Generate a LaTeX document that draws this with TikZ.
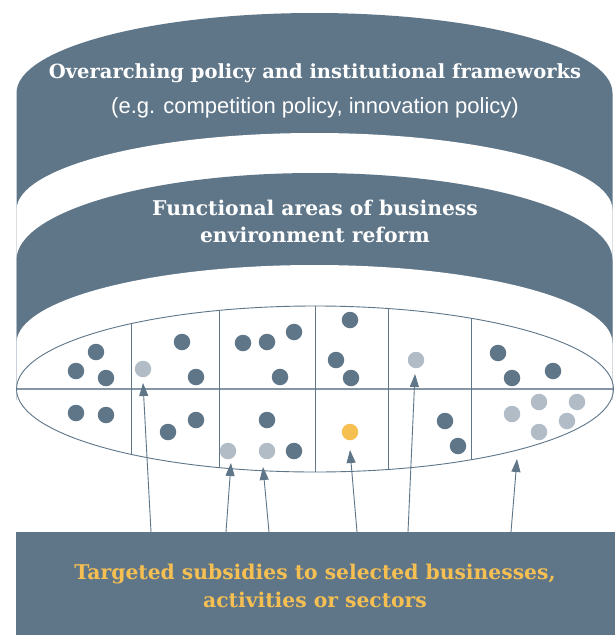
\documentclass[tikz,border=0pt]{standalone}
\usepackage{fontspec}
\setmainfont{DejaVu Serif}
\newfontfamily\headfont{DejaVu Serif}
\newfontfamily\notefont{Liberation Sans}
\usetikzlibrary{arrows.meta}
\definecolor{slate}{HTML}{5F7689}
\definecolor{mist}{HTML}{B2BCC7}
\definecolor{amber}{HTML}{F6BF52}
\definecolor{rulegray}{HTML}{8796A6}

\begin{document}
\begin{tikzpicture}[x=1pt,y=-1pt,
  dot/.style={circle,fill=slate,inner sep=0pt,minimum size=16.5pt},
  lite/.style={dot,fill=mist},
  gold/.style={dot,fill=amber},
  grid/.style={draw=slate,line width=0.9pt},
  arr/.style={draw=slate,line width=0.9pt,-{Triangle[width=9pt,length=13pt]}},
  head/.style={text=white,font=\headfont\bfseries\fontsize{19.5}{27}\selectfont,align=center,inner sep=0pt},
  subhead/.style={head,font=\headfont\bfseries\fontsize{20.3}{27}\selectfont},
  note/.style={text=white,font=\notefont\fontsize{22}{26}\selectfont,align=center,inner sep=0pt},
  goldhead/.style={head,text=amber,font=\headfont\bfseries\fontsize{20.3}{28}\selectfont}
]
% canvas
\fill[white] (0,0) rectangle (615,635);
\useasboundingbox (0,0) rectangle (615,635);

% stacked bands: alternate slate and white half-ellipses
\fill[slate] (16.5,93) arc[start angle=180,end angle=0,x radius=298pt,y radius=80pt] -- (612.5,400) -- (16.5,400) -- cycle;
\fill[white] (16.5,210) arc[start angle=180,end angle=0,x radius=298pt,y radius=77pt] -- (612.5,400) -- (16.5,400) -- cycle;
\fill[slate] (16.5,260) arc[start angle=180,end angle=0,x radius=298pt,y radius=87pt] -- (612.5,400) -- (16.5,400) -- cycle;
\fill[white] (16.5,343) arc[start angle=180,end angle=0,x radius=298pt,y radius=78pt] -- (612.5,530) -- (16.5,530) -- cycle;

% band labels
\node[head] (t1) at (315,73) {Overarching policy and institutional frameworks};
\node[note] (t2) at (315,108) {(e.g. competition policy, innovation policy)};
\node[subhead] (t3) at (315,221.5) {Functional areas of business\\environment reform};

% inner ellipse with its grid
\begin{scope}
  \clip (315,389) ellipse[x radius=298.5pt,y radius=83pt];
  \draw[draw=rulegray,line width=1.2pt] (10,389) -- (620,389);
  \foreach \vx in {131,219,315,388,471}
    \draw[grid] (\vx,300) -- (\vx,480);
\end{scope}
\draw[grid] (315,389) ellipse[x radius=298.5pt,y radius=83pt];

% cell 1
\node[dot] (a1) at (96,352) {};
\node[dot] (a2) at (76,371) {};
\node[dot] (a3) at (106,378) {};
\node[dot] (a4) at (76,413) {};
\node[dot] (a5) at (106,415) {};
% cell 2
\node[lite] (b1) at (143,369) {};
\node[dot] (b2) at (182,342) {};
\node[dot] (b3) at (196,377) {};
\node[dot] (b4) at (168,432) {};
\node[dot] (b5) at (196,420) {};
% cell 3
\node[dot] (c1) at (243,343) {};
\node[dot] (c2) at (267,342) {};
\node[dot] (c3) at (294,332) {};
\node[dot] (c4) at (280,377) {};
\node[dot] (c5) at (267,420) {};
\node[lite] (c6) at (228,451) {};
\node[lite] (c7) at (267,451) {};
\node[dot] (c8) at (294,451) {};
% cell 4
\node[dot] (e1) at (350,320) {};
\node[dot] (e2) at (336,360) {};
\node[dot] (e3) at (351,378) {};
\node[gold] (e4) at (350,432) {};
% cell 5
\node[lite] (f1) at (416,360) {};
\node[dot] (f2) at (445,421) {};
\node[dot] (f3) at (458,446) {};
% cell 6
\node[dot] (g1) at (498,353) {};
\node[dot] (g2) at (512,378) {};
\node[dot] (g3) at (553,371) {};
\node[lite] (g4) at (512,414) {};
\node[lite] (g5) at (539,402) {};
\node[lite] (g6) at (577,402) {};
\node[lite] (g7) at (567,421) {};
\node[lite] (g8) at (539,432) {};

% base block
\fill[slate] (16,532) rectangle (615,635);
\node[goldhead] (base) at (315,586) {Targeted subsidies to selected businesses,\\activities or sectors};

% arrows from the base block up into the cells
\coordinate (s1) at (151,532); \coordinate (p1) at (143,383);
\coordinate (s2) at (226,532); \coordinate (p2) at (231,463);
\coordinate (s3) at (269,532); \coordinate (p3) at (263,467);
\coordinate (s4) at (357,532); \coordinate (p4) at (350,450);
\coordinate (s5) at (408,532); \coordinate (p5) at (415,374);
\coordinate (s6) at (511,532); \coordinate (p6) at (517,459);
\foreach \k in {1,...,6}
  \draw[arr] (s\k) -- (p\k);
\end{tikzpicture}
\end{document}
